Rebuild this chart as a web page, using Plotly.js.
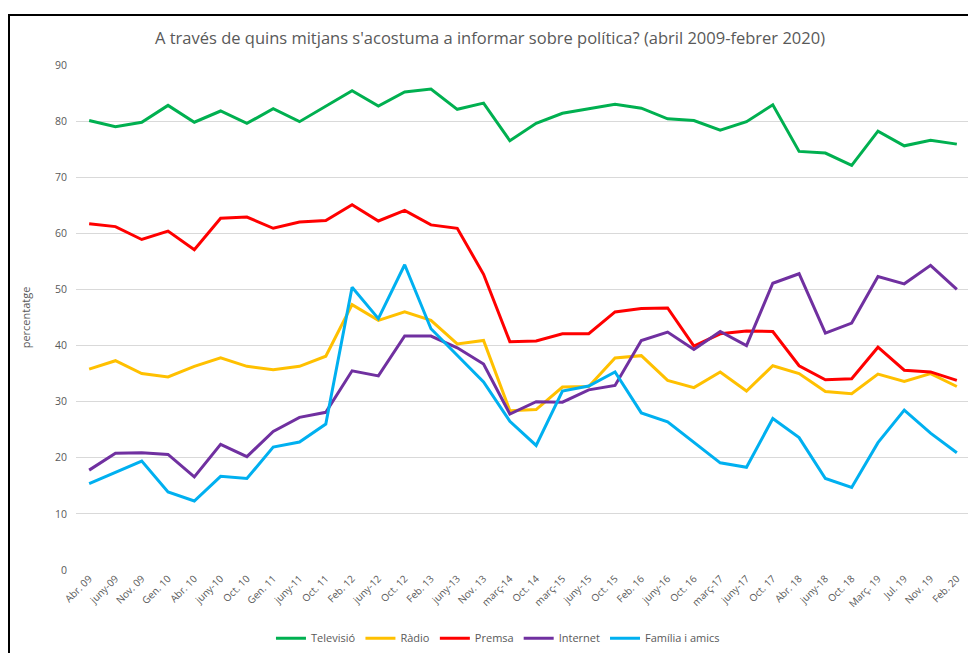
<!DOCTYPE html>
<html>
<head>
<meta charset="utf-8">
<script src="https://cdn.plot.ly/plotly-3.0.1.min.js"></script>
<style>
html,body{margin:0;padding:0;background:#fff;overflow:hidden;}
#frame{position:absolute;left:8px;top:14px;width:960px;height:639px;border-top:2px solid #000;border-left:2px solid #000;}
#chart{width:960px;height:639px;}
</style>
</head>
<body>
<div id="frame"><div id="chart"></div></div>
<script>
const categories = ["Abr. 09","juny-09","Nov. 09","Gen. 10","Abr. 10","juny-10","Oct. 10","Gen. 11","juny-11","Oct. 11","Feb. 12","juny-12","Oct. 12","Feb. 13","juny-13","Nov. 13","març-14","Oct. 14","març-15","juny-15","Oct. 15","Feb. 16","juny-16","Oct. 16","març-17","juny-17","Oct. 17","Abr. 18","juny-18","Oct. 18","Març. 19","Jul. 19","Nov. 19","Feb. 20"];

const televisio = [80.1,79.0,79.8,82.8,79.8,81.8,79.6,82.2,79.9,82.6,85.4,82.7,85.2,85.7,82.1,83.2,76.5,79.6,81.4,82.2,83.0,82.3,80.4,80.1,78.4,79.9,82.9,74.6,74.3,72.1,78.2,75.6,76.6,75.9];
const radio = [35.8,37.3,35.0,34.4,36.3,37.8,36.3,35.7,36.3,38.1,47.3,44.5,46.0,44.5,40.3,40.9,28.4,28.6,32.6,32.7,37.8,38.2,33.8,32.5,35.3,31.9,36.4,35.0,31.8,31.4,34.9,33.6,35.0,32.7];
const premsa = [61.7,61.2,58.9,60.4,57.1,62.7,62.9,60.9,62.0,62.3,65.1,62.2,64.1,61.5,60.9,52.7,40.7,40.8,42.1,42.1,46.0,46.6,46.7,39.9,42.1,42.6,42.5,36.4,33.9,34.1,39.7,35.6,35.3,33.8];
const internet = [17.8,20.8,20.9,20.6,16.6,22.4,20.2,24.7,27.2,28.1,35.5,34.6,41.7,41.7,39.6,36.7,27.8,30.0,29.9,32.1,32.9,40.9,42.4,39.3,42.5,40.0,51.1,52.8,42.2,44.0,52.3,51.0,54.3,50.0];
const familia = [15.4,17.4,19.4,13.9,12.3,16.7,16.3,21.9,22.8,26.0,50.4,44.8,54.4,43.0,38.3,33.5,26.5,22.2,31.9,32.8,35.3,28.0,26.4,22.7,19.1,18.3,27.0,23.6,16.3,14.7,22.7,28.5,24.4,20.9];

const seriesNames = ["Televisió","Ràdio","Premsa","Internet","Família i amics"];
const seriesData = [televisio, radio, premsa, internet, familia];
const seriesColors = ["#00B050","#FFC000","#FF0000","#7030A0","#00B0F0"];

const traces = seriesData.map((ys, i) => ({
  type: "scatter",
  mode: "lines",
  name: seriesNames[i],
  x: categories,
  y: ys,
  line: {color: seriesColors[i], width: 3},
  hoverinfo: "skip"
}));

const font = "Open Sans, Lato, sans-serif";
const layout = {
  width: 960, height: 639,
  margin: {l: 66, r: 0, t: 49, b: 85},
  paper_bgcolor: "#fff", plot_bgcolor: "#fff",
  showlegend: true,
  title: {text: "A través de quins mitjans s'acostuma a informar sobre política? (abril 2009-febrer 2020)",
          font: {family: font, size: 16.5, color: "#595959"}, x: 0.5, xanchor: "center", y: 0.965, yanchor: "middle"},
  xaxis: {type: "category", tickangle: -45, tickfont: {family: font, size: 10, color: "#595959"},
          showgrid: false, showline: false, ticks: "", zeroline: false, range: [-0.5, 33.5], fixedrange: true},
  yaxis: {range: [0, 90], dtick: 10, tickfont: {family: font, size: 10.5, color: "#595959"},
          gridcolor: "#D9D9D9", gridwidth: 1, zeroline: false, showline: false, ticks: "", ticklen: 0,
          ticklabelstandoff: 8,
          title: {text: "percentatge", font: {family: font, size: 11, color: "#595959"}, standoff: 22}},
  legend: {orientation: "h", x: 0.472, xanchor: "center", y: -0.135, yanchor: "middle",
           font: {family: font, size: 11, color: "#595959"}, itemwidth: 30, traceorder: "normal"}
};

Plotly.newPlot("chart", traces, layout, {displayModeBar: false, staticPlot: true});
</script>
</body>
</html>
